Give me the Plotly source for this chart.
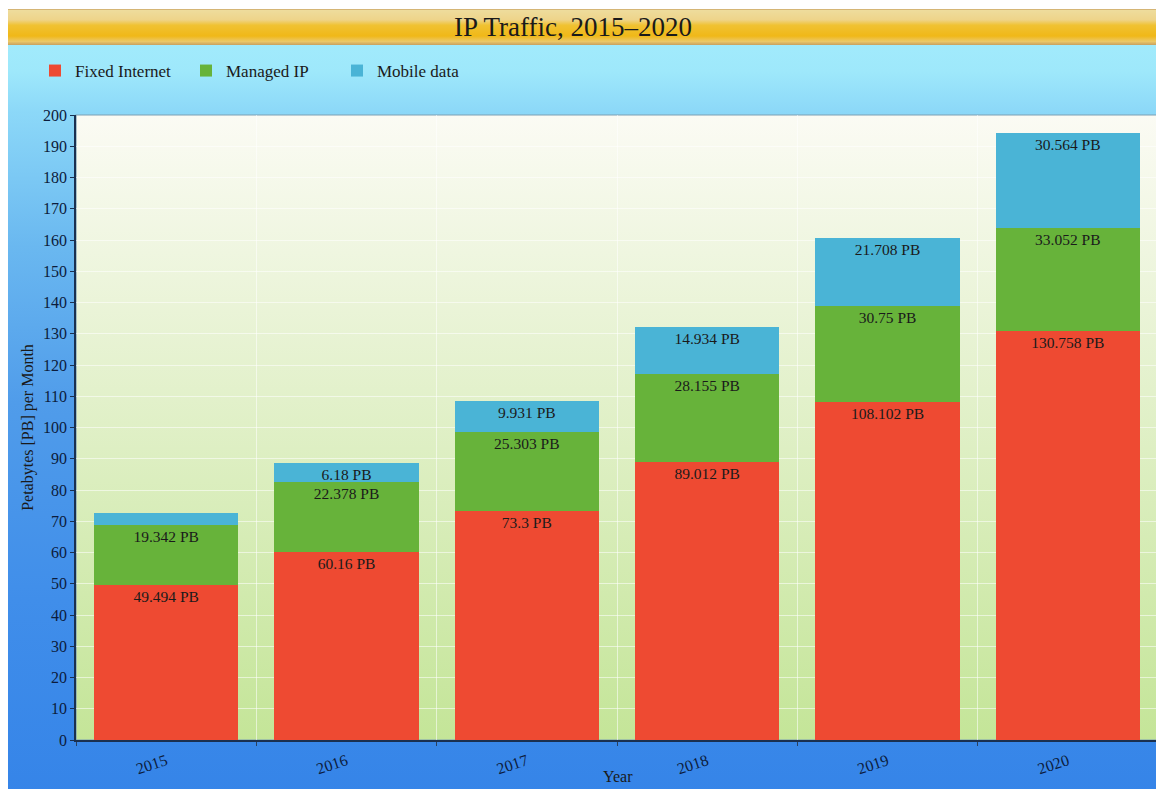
import base64
import plotly.graph_objects as go

# ---- data ----
years = ["2015", "2016", "2017", "2018", "2019", "2020"]
fixed_internet = [49.494, 60.16, 73.3, 89.012, 108.102, 130.758]
managed_ip = [19.342, 22.378, 25.303, 28.155, 30.75, 33.052]
mobile_data = [3.685, 6.18, 9.931, 14.934, 21.708, 30.564]

# figure is drawn at an 8px body offset inside the page
W, H = 1164, 789
L, R, T, B = 68, 1150, 107, 732  # plot area in figure pixels


def px_x(px):
    return (px - L) / (R - L)


def px_y(py):
    return (B - py) / (B - T)


def grad_uri(stops):
    s = "".join(f'<stop offset="{o}" stop-color="{c}"/>' for o, c in stops)
    svg = ('<svg xmlns="http://www.w3.org/2000/svg" width="10" height="100" '
           'viewBox="0 0 10 100" preserveAspectRatio="none"><defs>'
           f'<linearGradient id="g" x1="0" y1="0" x2="0" y2="1">{s}</linearGradient>'
           '</defs><rect x="0" y="0" width="10" height="100" fill="url(#g)"/></svg>')
    return "data:image/svg+xml;base64," + base64.b64encode(svg.encode()).decode()


def label(vals, minv=5):
    return [f"{v:g} PB" if v >= minv else "" for v in vals]


font_family = "Liberation Serif, Times New Roman, serif"

fig = go.Figure()
for name, vals, color in [
    ("Fixed Internet", fixed_internet, "#ee4a32"),
    ("Managed IP", managed_ip, "#67b33a"),
    ("Mobile data", mobile_data, "#4ab4d6"),
]:
    fig.add_trace(go.Bar(
        x=years, y=vals, name=name,
        marker=dict(color=color, line=dict(width=0)),
        text=label(vals), textposition="inside", insidetextanchor="end",
        textangle=0, constraintext="none",
        textfont=dict(family=font_family, size=15.5, color="#1a1a1a"),
        width=0.8, hoverinfo="x+y+name",
    ))

images = [
    # figure background gradient
    dict(source=grad_uri([(0, "#a6eefd"), (0.08, "#9ee8fb"), (0.13, "#8cd8f8"),
                          (0.3, "#6ab8f0"), (0.5, "#509cea"), (0.75, "#408eea"),
                          (1, "#3584e8")]),
         xref="paper", yref="paper", x=px_x(0), y=px_y(1),
         sizex=px_x(W) - px_x(0), sizey=px_y(1) - px_y(H),
         xanchor="left", yanchor="top", sizing="stretch", layer="below"),
    # plot area gradient
    dict(source=grad_uri([(0, "#fbfbf4"), (0.35, "#e8f3d4"), (1, "#c4e598")]),
         xref="paper", yref="paper", x=0, y=1, sizex=1, sizey=1,
         xanchor="left", yanchor="top", sizing="stretch", layer="below"),
    # title banner
    dict(source=grad_uri([(0, "#c8a060"), (0.04, "#eedc9c"), (0.3, "#eed48a"),
                          (0.45, "#f0c232"), (0.75, "#f0b818"), (0.9, "#ecc868"),
                          (1, "#c8a060")]),
         xref="paper", yref="paper", x=px_x(0), y=px_y(1),
         sizex=px_x(W) - px_x(0), sizey=px_y(1) - px_y(37),
         xanchor="left", yanchor="top", sizing="stretch", layer="below"),
]

shapes = [
    # light frame around the plot area (top/right edges visible)
    dict(type="rect", xref="paper", yref="paper", x0=0, y0=0, x1=1, y1=1,
         line=dict(color="#7c9fb4", width=1.2), fillcolor="rgba(0,0,0,0)",
         layer="below"),
]

annotations = [
    dict(text="Year", xref="paper", yref="paper", x=px_x(610), y=px_y(768),
         xanchor="center", yanchor="middle", showarrow=False,
         font=dict(family=font_family, size=16, color="#1a1a1a")),
]

fig.update_layout(
    width=W, height=H,
    margin=dict(l=L, r=W - R, t=T, b=H - B, pad=0),
    barmode="stack",
    paper_bgcolor="white",
    plot_bgcolor="rgba(0,0,0,0)",
    images=images,
    shapes=shapes,
    annotations=annotations,
    font=dict(family=font_family, color="#0c1c3c"),
    title=dict(text="IP Traffic, 2015\u20132020", x=px_x(565), xref="paper",
               xanchor="center", y=1 - 19 / H, yanchor="middle", yref="container",
               font=dict(family=font_family, size=27, color="#1a1a1a")),
    legend=dict(orientation="h", x=px_x(27), y=px_y(45), xanchor="left",
                yanchor="top", bgcolor="rgba(0,0,0,0)",
                font=dict(family=font_family, size=17, color="#1a1a1a"),
                itemwidth=30, entrywidth=106, entrywidthmode="pixels",
                traceorder="normal"),
    showlegend=True,
)

fig.update_xaxes(
    type="category", range=[-0.5, 5.5],
    tickson="boundaries", ticks="outside", ticklen=4, tickcolor="#2a4060",
    tickangle=-18, ticklabelstandoff=4,
    tickfont=dict(family=font_family, size=16, color="#0c1c3c"),
    showgrid=True, gridcolor="rgba(255,255,255,0.55)", gridwidth=1,
    showline=True, linecolor="#1a3050", linewidth=1.5, mirror=False,
    automargin=False,
)
fig.update_yaxes(
    range=[0, 200], dtick=10, ticks="outside", ticklen=4, tickcolor="#1a3050",
    tickfont=dict(family=font_family, size=16, color="#0c1c3c"),
    showgrid=True, gridcolor="rgba(255,255,255,0.55)", gridwidth=1,
    showline=True, linecolor="#1a3050", linewidth=1.5, mirror=False,
    zeroline=False,
    title=dict(text="Petabytes [PB] per Month", standoff=5,
               font=dict(family=font_family, size=16, color="#1a1a1a")),
    automargin=False,
)

fig.write_html("out.html")
